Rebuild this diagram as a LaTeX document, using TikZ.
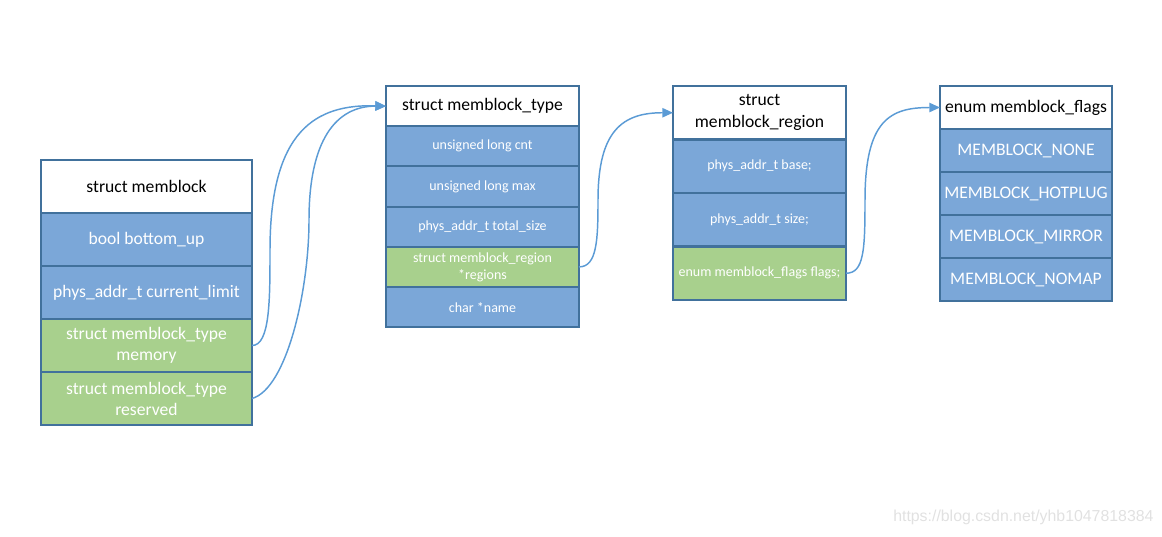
\documentclass[tikz,border=0pt]{standalone}
\usepackage{fontspec}
\setmainfont{Carlito}
\newfontfamily\wmfont{Liberation Sans}
\usetikzlibrary{arrows.meta}
\definecolor{cellblue}{RGB}{123,167,216}
\definecolor{cellgreen}{RGB}{168,208,141}
\definecolor{cellborder}{RGB}{65,113,156}
\definecolor{arrowblue}{RGB}{91,155,213}
\definecolor{wmgray}{RGB}{225,225,225}
\begin{document}
\begin{tikzpicture}[x=0.75pt,y=-0.75pt,
  cell/.style={draw=cellborder,line width=1.5pt,inner sep=0pt,outer sep=0pt,anchor=north west,align=center},
  hdr/.style={cell,fill=white,text=black,font=\fontsize{13.2}{16.5}\selectfont},
  blu/.style={cell,fill=cellblue,text=white},
  grn/.style={cell,fill=cellgreen,text=white},
  big/.style={font=\fontsize{13.2}{15.75}\selectfont},
  small/.style={font=\fontsize{10.5}{12.75}\selectfont},
  bA/.style={minimum width=158.25pt,minimum height=39.75pt},
  bB/.style={minimum width=144.75pt,minimum height=30.15pt},
  bC/.style={minimum width=129.75pt,minimum height=40.1pt},
  bD/.style={minimum width=129pt,minimum height=32.25pt},
  arr/.style={draw=arrowblue,line width=1.1pt,-{Triangle[length=8pt,width=7pt]}}]
\useasboundingbox (0,0) rectangle (1162,536);
% box 1
\node[hdr,bA] (a0) at (41,160) {struct memblock};
\node[blu,big,bA] (a1) at (41,213) {bool bottom\_up};
\node[blu,big,bA] (a2) at (41,266) {phys\_addr\_t current\_limit};
\node[grn,big,bA] (a3) at (41,319) {struct memblock\_type\\memory};
\node[grn,big,bA] (a4) at (41,372) {struct memblock\_type\\reserved};
% box 2
\node[hdr,bB] (b0) at (386,86) {struct memblock\_type};
\node[blu,small,bB] (b1) at (386,126.2) {unsigned long cnt};
\node[blu,small,bB] (b2) at (386,166.4) {unsigned long max};
\node[blu,small,bB] (b3) at (386,206.6) {phys\_addr\_t total\_size};
\node[grn,small,bB] (b4) at (386,246.8) {struct memblock\_region\\*regions};
\node[blu,small,bB] (b5) at (386,287) {char *name};
% box 3
\node[hdr,bC] (c0) at (673,86) {struct\\memblock\_region};
\node[blu,small,bC] (c1) at (673,139.5) {phys\_addr\_t base;};
\node[blu,small,bC] (c2) at (673,193) {phys\_addr\_t size;};
\node[grn,small,bC] (c3) at (673,246.5) {enum memblock\_flags flags;};
% box 4
\node[hdr,bD] (d0) at (940,86) {enum memblock\_flags};
\node[blu,big,bD] (d1) at (940,129) {MEMBLOCK\_NONE};
\node[blu,big,bD] (d2) at (940,172) {MEMBLOCK\_HOTPLUG};
\node[blu,big,bD] (d3) at (940,215) {MEMBLOCK\_MIRROR};
\node[blu,big,bD] (d4) at (940,258) {MEMBLOCK\_NOMAP};
% waypoints
\coordinate (m1) at (270,250);
\coordinate (m2) at (309,220);
\coordinate (m3) at (598,200);
\coordinate (m4) at (865,200);
% connectors
\draw[arr] (a3.east) .. controls +(18,0) and +(0,50) .. (m1) .. controls +(0,-120) and +(-70,-2) .. (b0.west);
\draw[arr] (a4.east) .. controls +(35,-10) and +(0,70) .. (m2) .. controls +(0,-80) and +(-50,0) .. (b0.west);
\draw[arr] (b4.east) .. controls +(18,0) and +(0,40) .. (m3) .. controls +(0,-70) and +(-50,0) .. (c0.west);
\draw[arr] (c3.east) .. controls +(18,0) and +(0,50) .. (m4) .. controls +(0,-80) and +(-50,0) .. (d0.west);
% watermark
\node[anchor=west,text=wmgray,font=\wmfont\fontsize{11.9}{13}\selectfont,inner sep=0pt] (wm) at (893,517) {https://blog.csdn.net/yhb1047818384};
\end{tikzpicture}
\end{document}
